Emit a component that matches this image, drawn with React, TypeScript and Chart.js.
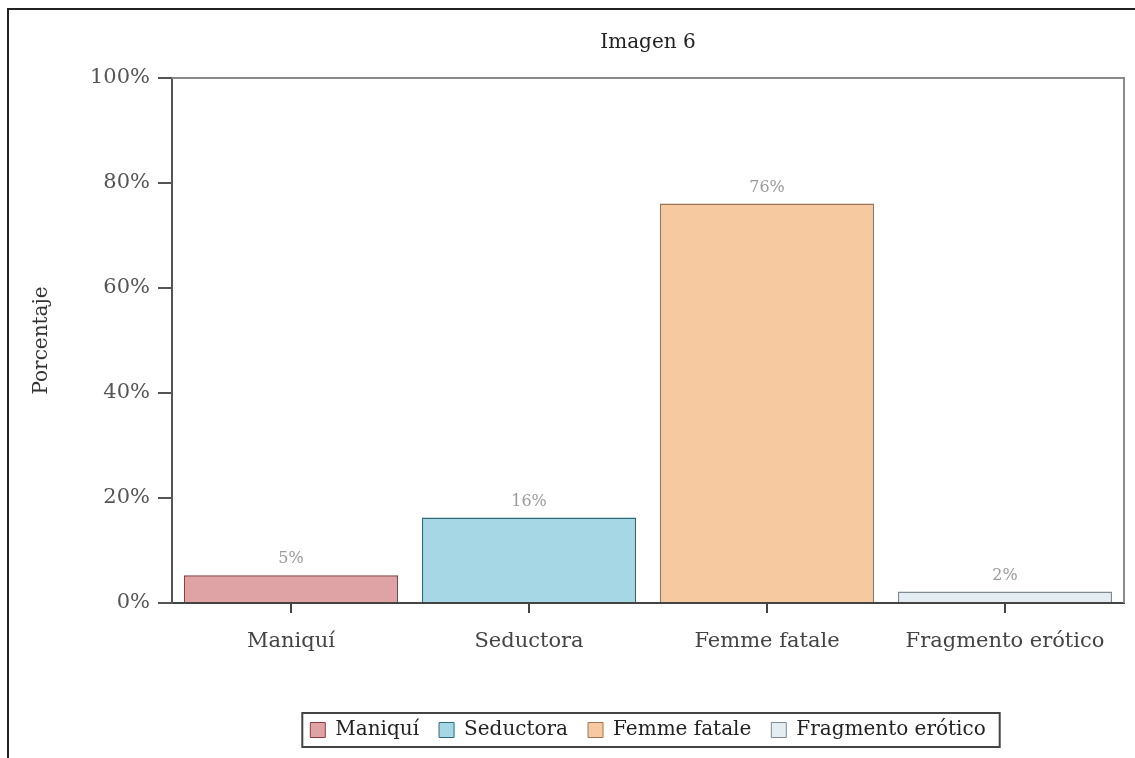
import React, { useEffect, useRef } from "react";
import { Chart, registerables } from "chart.js";

Chart.register(...registerables);

const categories = ["Maniquí", "Seductora", "Femme fatale", "Fragmento erótico"];
const values = [5.3, 16.3, 76.1, 2.2];
const yTicks = [0, 20, 40, 60, 80, 100];
const fillColors = ["#e0a3a5", "#a6d7e4", "#f6c9a0", "#e4edf2"];
const borderColors = ["#8b3e42", "#2c6b7a", "#9c7556", "#7c8a92"];
const chartTitle = "Imagen 6";
const yTitle = "Porcentaje";

const SERIF = "'DejaVu Serif', serif";

const framePlugin = {
  id: "frame",
  beforeDraw(chart: any) {
    const ctx = chart.ctx;
    ctx.save();
    ctx.fillStyle = "#ffffff";
    ctx.fillRect(0, 0, chart.width, chart.height);
    ctx.strokeStyle = "#222";
    ctx.lineWidth = 2;
    ctx.beginPath();
    ctx.moveTo(8, chart.height);
    ctx.lineTo(8, 9);
    ctx.lineTo(chart.width, 9);
    ctx.stroke();
    ctx.restore();
  },
  afterDraw(chart: any) {
    const ctx = chart.ctx;
    const a = chart.chartArea;
    ctx.save();
    ctx.strokeStyle = "#8a8a8a";
    ctx.lineWidth = 2;
    ctx.beginPath();
    ctx.moveTo(a.left, a.top);
    ctx.lineTo(a.right, a.top);
    ctx.lineTo(a.right, a.bottom);
    ctx.stroke();
    // title
    ctx.font = "20px " + SERIF;
    ctx.fillStyle = "#222";
    ctx.textAlign = "center";
    ctx.textBaseline = "middle";
    ctx.fillText(chartTitle, (a.left + a.right) / 2, 43);
    // data labels
    const meta = chart.getDatasetMeta(0);
    ctx.font = "16px " + SERIF;
    ctx.fillStyle = "#9a9a9a";
    ctx.textAlign = "center";
    ctx.textBaseline = "bottom";
    meta.data.forEach((bar: any, i: number) => {
      ctx.fillText(Math.round(values[i]) + "%", bar.x, bar.y - 8);
    });
    // legend border
    const lg = chart.legend;
    if (lg && lg.legendHitBoxes && lg.legendHitBoxes.length) {
      const hb = lg.legendHitBoxes;
      const l = Math.min(...hb.map((h: any) => h.left)) - 8;
      const r = Math.max(...hb.map((h: any) => h.left + h.width)) + 14;
      const t = Math.min(...hb.map((h: any) => h.top));
      const hh = hb[0].height;
      ctx.strokeStyle = "#444";
      ctx.lineWidth = 2;
      ctx.strokeRect(l, t + hh / 2 - 17, r - l, 34);
    }
    ctx.restore();
  },
};

export default function App() {
  const ref = useRef<HTMLCanvasElement | null>(null);
  useEffect(() => {
    if (!ref.current) return;
    const chart = new Chart(ref.current, {
      type: "bar",
      data: {
        labels: categories,
        datasets: [
          {
            data: values,
            backgroundColor: fillColors,
            borderColor: borderColors,
            borderWidth: 1.5,
            barPercentage: 0.9,
            categoryPercentage: 1,
          },
        ],
      },
      options: {
        animation: false,
        responsive: false,
        maintainAspectRatio: false,
        layout: { padding: { left: 26, right: 11, top: 78, bottom: 8 } },
        plugins: {
          title: { display: false },
          legend: {
            display: true,
            position: "bottom",
            fullSize: false,
            labels: {
              font: { family: SERIF, size: 20 },
              color: "#222",
              boxWidth: 15,
              boxHeight: 15,
              padding: 20,
              generateLabels: () =>
                categories.map((c, i) => ({
                  text: c,
                  fillStyle: fillColors[i],
                  strokeStyle: borderColors[i],
                  lineWidth: 1,
                  hidden: false,
                  index: i,
                  fontColor: "#222",
                })),
            },
            onClick: () => {},
          },
          tooltip: { enabled: false },
        },
        scales: {
          x: {
            grid: {
              display: true,
              drawOnChartArea: false,
              tickLength: 10,
              color: "#444",
              lineWidth: 2,
              offset: false,
            },
            border: { color: "#444", width: 2 },
            ticks: {
              color: "#444",
              font: { family: SERIF, size: 21 },
              padding: 16,
            },
            afterFit: (s: any) => {
              s.height = 97;
            },
          },
          y: {
            min: 0,
            max: 100,
            afterBuildTicks: (s: any) => {
              s.ticks = yTicks.map((v) => ({ value: v }));
            },
            grid: {
              display: true,
              drawOnChartArea: false,
              tickLength: 14,
              color: "#555",
              lineWidth: 2,
            },
            border: { color: "#555", width: 2 },
            ticks: {
              color: "#555",
              font: { family: SERIF, size: 21 },
              padding: 8,
              callback: (v: any) => v + "%",
            },
            title: {
              display: true,
              text: yTitle,
              color: "#333",
              font: { family: SERIF, size: 20 },
            },
            afterFit: (s: any) => {
              s.width = 146;
            },
          },
        },
      },
      plugins: [framePlugin],
    });
    return () => chart.destroy();
  }, []);
  return (
    <div style={{ position: "fixed", left: 0, top: 0, width: 1135, height: 758, background: "#fff" }}>
      <canvas ref={ref} width={1135} height={758} style={{ display: "block" }} />
    </div>
  );
}
